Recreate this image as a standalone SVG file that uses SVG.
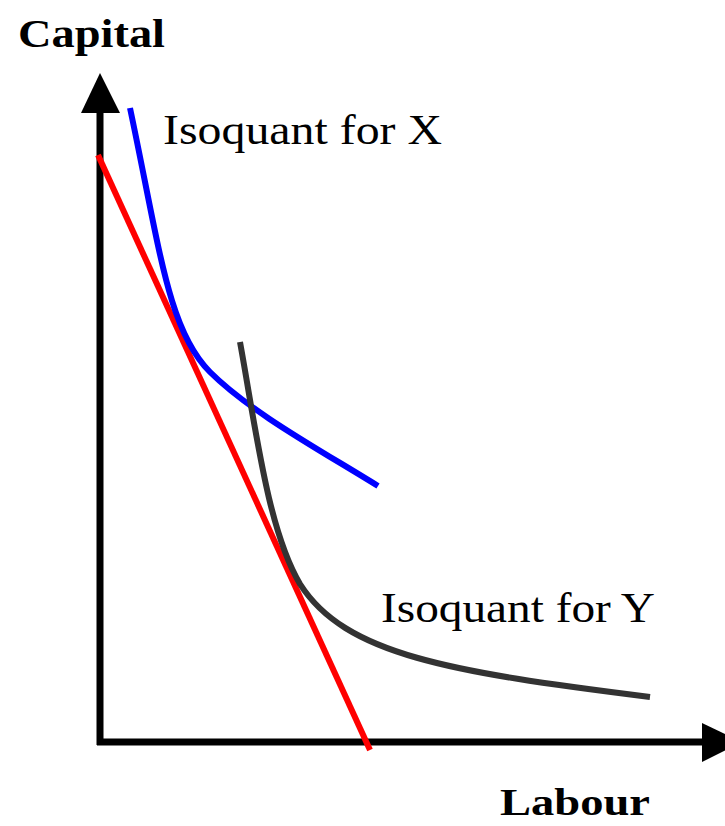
<svg xmlns="http://www.w3.org/2000/svg" width="725" height="826" viewBox="0 0 725 826">
<style>
.lbl{font-family:"Liberation Serif","Times New Roman",serif;fill:#000}
.bold{font-weight:bold}
.curve{fill:none;stroke-width:6}
</style>
<rect width="725" height="826" fill="#fff"/>
<g id="axes">
<line x1="100" y1="745" x2="100" y2="108" stroke="#000" stroke-width="7"/>
<polygon points="100,73 81,113 120,113" fill="#000"/>
<line x1="97" y1="742" x2="706" y2="742" stroke="#000" stroke-width="7"/>
<polygon points="742,742 702,723 702,762" fill="#000"/>
</g>
<g id="connectors">
<line id="budget" x1="98" y1="155" x2="370" y2="750" stroke="#ff0000" stroke-width="6"/>
<path id="isoX" class="curve" stroke="#0000ff" d="M130,108 C160,250 168,330 210,372 C250,412 320,450 378,486"/>
<path id="isoY" class="curve" stroke="#333333" d="M240,342 C256,430 268,530 300,584 C345,655 450,672 650,697"/>
</g>
<g id="labels">
<text class="lbl bold" x="18" y="47" font-size="40" textLength="147" lengthAdjust="spacingAndGlyphs">Capital</text>
<text class="lbl" x="163" y="144" font-size="42" textLength="279" lengthAdjust="spacingAndGlyphs">Isoquant for X</text>
<text class="lbl" x="381" y="622" font-size="42" textLength="274" lengthAdjust="spacingAndGlyphs">Isoquant for Y</text>
<text class="lbl bold" x="500" y="815" font-size="37" textLength="150" lengthAdjust="spacingAndGlyphs">Labour</text>
</g>
</svg>
